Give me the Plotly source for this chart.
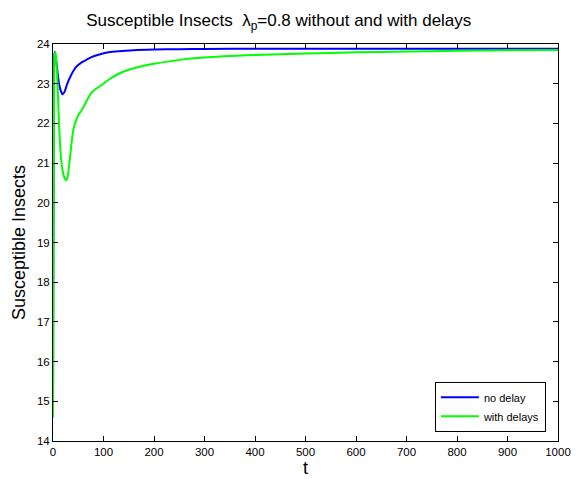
import plotly.graph_objects as go

# Data
t_nodelay = [0, 1, 2, 3, 5, 8, 12, 16, 19, 23, 28, 36, 45, 56, 66, 76, 90, 110, 130, 160,
             200, 250, 300, 400, 500, 600, 800, 1000]
s_nodelay = [14.6, 20.5, 23.5, 23.8, 23.7, 23.4, 23.0, 22.8, 22.73, 22.8, 22.99, 23.22,
             23.41, 23.53, 23.6, 23.67, 23.73, 23.79, 23.82, 23.845, 23.86, 23.87, 23.875,
             23.88, 23.88, 23.88, 23.88, 23.88]

t_delay = [0, 1, 2, 3, 5, 7, 9, 11, 13, 16, 20, 23, 26, 29, 32, 35, 38, 41, 44, 48, 52, 56,
           62, 68, 76, 84, 92, 100, 110, 130, 150, 175, 200, 250, 300, 400, 500, 600, 700,
           800, 900, 1000]
s_delay = [14.6, 19.0, 22.5, 23.7, 23.8, 23.5, 23.0, 22.3, 21.7, 21.1, 20.75, 20.62, 20.57,
           20.65, 20.95, 21.3, 21.65, 21.88, 22.02, 22.15, 22.25, 22.32, 22.45, 22.6, 22.77,
           22.86, 22.93, 23.0, 23.1, 23.25, 23.35, 23.44, 23.5, 23.6, 23.66, 23.72, 23.76,
           23.79, 23.81, 23.83, 23.84, 23.85]

x_ticks = list(range(0, 1001, 100))
y_ticks = list(range(14, 25))

FONT = "Liberation Sans, Arial, Helvetica, sans-serif"

fig = go.Figure()
fig.add_trace(go.Scatter(x=t_nodelay, y=s_nodelay, mode="lines", name="no delay",
                         line=dict(color="#0000ff", width=2, shape="spline", smoothing=0.6)))
fig.add_trace(go.Scatter(x=t_delay, y=s_delay, mode="lines", name="with delays",
                         line=dict(color="#00ff00", width=2, shape="spline", smoothing=0.6)))

axis_common = dict(showline=True, linecolor="black", linewidth=1, mirror="ticks",
                   ticks="inside", ticklen=5, tickcolor="black", showgrid=False,
                   zeroline=False, automargin=False,
                   tickfont=dict(family=FONT, size=11.5, color="black"))

fig.update_layout(
    width=576, height=479,
    margin=dict(l=53, r=18, t=44, b=38),
    paper_bgcolor="white", plot_bgcolor="white",
    font=dict(family=FONT, color="black"),
    title=dict(text="Susceptible Insects  λ<sub>p</sub>=0.8 without and with delays",
               x=0.484, xanchor="center", y=0.958, yanchor="middle", yref="container",
               font=dict(family=FONT, size=17, color="black")),
    xaxis=dict(range=[0, 1000], tickvals=x_ticks, ticktext=[str(v) for v in x_ticks],
               title=dict(text="t", font=dict(family=FONT, size=18), standoff=0),
               **axis_common),
    yaxis=dict(range=[14, 24], tickvals=y_ticks, ticktext=[str(v) for v in y_ticks],
               title=dict(text="Susceptible Insects", font=dict(family=FONT, size=18), standoff=6),
               **axis_common),
    legend=dict(x=0.976, xanchor="right", y=0.023, yanchor="bottom",
                bordercolor="black", borderwidth=1, bgcolor="white",
                font=dict(family=FONT, size=11, color="black"),
                tracegroupgap=0, itemwidth=38, entrywidth=72),
    showlegend=True,
)

fig.write_html("out.html")
